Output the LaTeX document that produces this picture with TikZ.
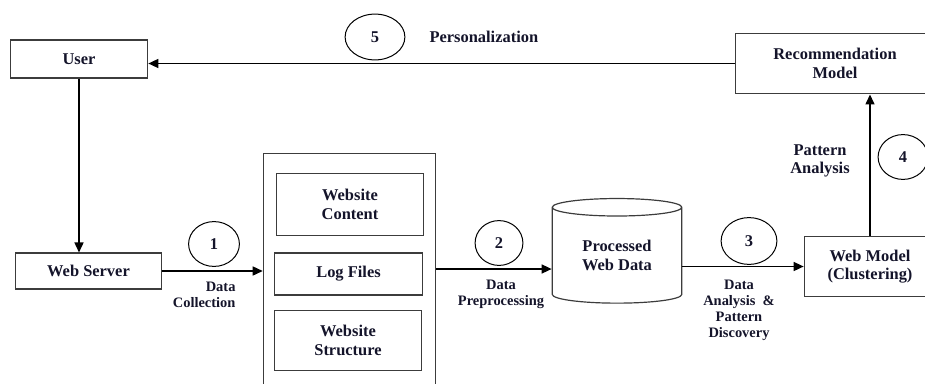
\documentclass[tikz,border=0pt]{standalone}
\usepackage{fontspec}
\setmainfont{Liberation Serif}
\usetikzlibrary{shapes.geometric,arrows.meta}
\definecolor{edge}{HTML}{3C3C3C}
\definecolor{ink}{HTML}{14142A}

\begin{document}
\begin{tikzpicture}[x=1bp,y=-1bp,
    big/.style={font=\bfseries\fontsize{16.5}{18.5}\selectfont,text=ink,align=center},
    small/.style={font=\bfseries\fontsize{14.5}{16}\selectfont,text=ink,align=center},
    box/.style={big,draw=edge,line width=1.2pt,inner sep=0pt},
    num/.style={big,ellipse,draw=black,line width=1pt,inner sep=0pt},
    flow/.style={black,line width=1.5pt,-{Triangle[length=10bp,width=9bp]}}]
  \useasboundingbox (0,0) rectangle (925,383);
  % boxes
  \node[box,minimum width=138,minimum height=38] (user) at (79,59) {User};
  \node[box,minimum width=147,minimum height=36] (server) at (88.5,271) {Web Server};
  \node[box,minimum width=173,minimum height=250] (store) at (349.5,278) {};
  \node[box,minimum width=148,minimum height=63] (content) at (350,204.5) {Website\\Content};
  \node[box,minimum width=149,minimum height=42] (logs) at (348.5,274) {Log Files};
  \node[box,minimum width=148,minimum height=61] (structure) at (348,340.5) {Website\\Structure};
  \node[box,cylinder,shape border rotate=90,aspect=0.25,
        minimum width=130,minimum height=105] (webdata) at (617,255.5) {Processed\\Web Data};
  \node[box,minimum width=132,minimum height=61] (webmodel) at (870,266.5) {Web Model\\(Clustering)};
  \node[box,minimum width=200,minimum height=61] (recmodel) at (835,63.5) {Recommendation\\Model};
  % step numbers
  \node[num,minimum width=51,minimum height=45] (n1) at (214,244) {1};
  \node[num,minimum width=48,minimum height=45] (n2) at (499,243) {2};
  \node[num,minimum width=56,minimum height=47] (n3) at (749,241) {3};
  \node[num,minimum width=50,minimum height=45] (n4) at (903,157) {4};
  \node[num,minimum width=60,minimum height=46] (n5) at (375,37) {5};
  % labels
  \node[big,anchor=west] (lpers) at (426,37) {Personalization};
  \node[small,align=right,anchor=east] (lcoll) at (239,295) {Data\\Collection};
  \node[small] (lprep) at (501,294) {Data\\Preprocessing};
  \node[small] (lanal) at (739,310) {Data\\Analysis~~\&\\Pattern\\Discovery};
  \node[big] (lpatt) at (820,161) {Pattern\\Analysis};
  % flows
  \draw[flow] (recmodel.west) -- (recmodel.west -| user.east);
  \draw[flow] (user) -- (user |- server.north);
  \draw[flow] (server.east) -- (store.west |- server.east);
  \draw[flow] (store.east |- 0,269) -- (webdata.west |- 0,269);
  \draw[flow] (webdata.east |- webmodel.west) -- (webmodel.west);
  \draw[flow] (webmodel.north) -- (webmodel.north |- recmodel.south);
\end{tikzpicture}
\end{document}
